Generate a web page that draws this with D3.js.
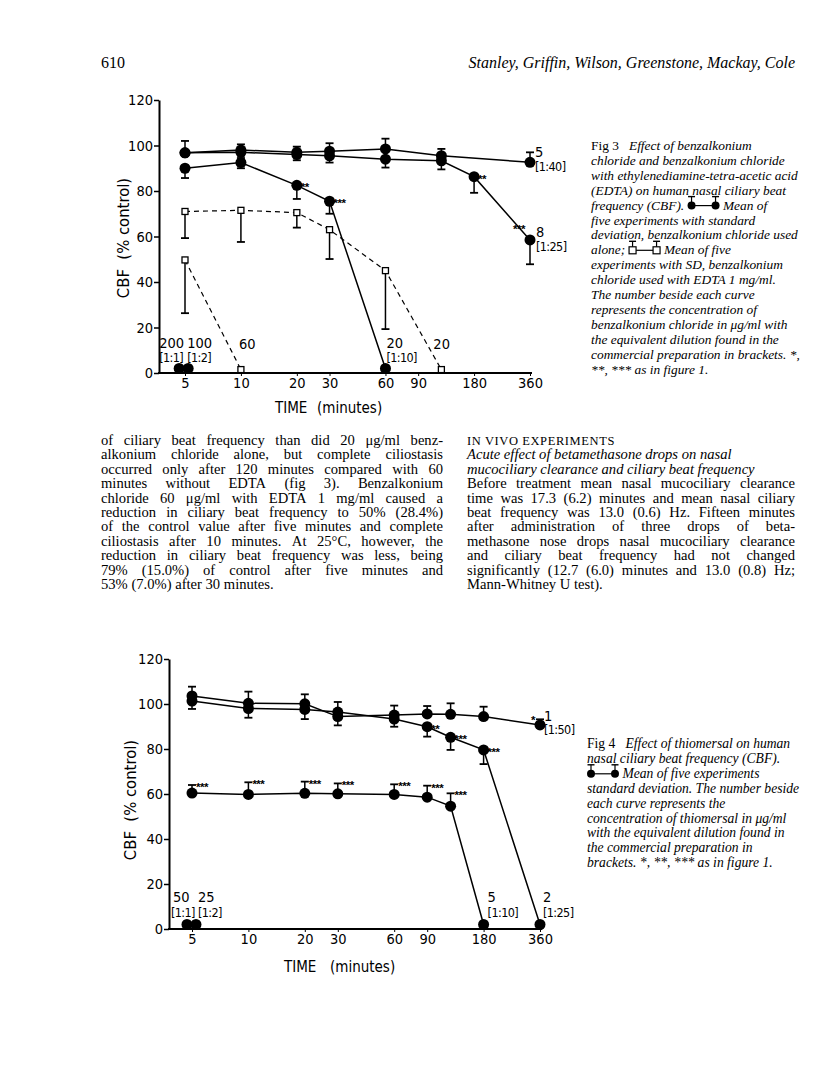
<!DOCTYPE html>
<html>
<head>
<meta charset="utf-8">
<script src="https://cdn.jsdelivr.net/npm/d3@7"></script>
<style>
  body { margin: 0; background: #fff; }
  svg { display: block; }
  text { white-space: pre; fill: #000; }
  .serif { font-family: "Liberation Serif", "Times New Roman", serif; }
  .narrow { font-family: "Liberation Sans Narrow", "DejaVu Sans Condensed", sans-serif; }
</style>
</head>
<body>
<svg id="page" width="816" height="1084"></svg>
<script>
// ---- data ----
// each row: [time (min), mean CBF (% control), end of SD bar or null]
// Fig 3, benzalkonium chloride alone (filled) and with EDTA (open)
var bkc5 = [[5, 96.8, 102], [10, 98, 100.5], [20, 97, 99.5], [30, 97.5, 101], [60, 98.5, 103], [120, 95.5, 98.5], [360, 92.6, 97]];
var bkc8 = [[5, 96.8, null], [10, 97, 94.5], [20, 96, 93.5], [30, 95.5, 92.5], [60, 94, 90.3], [120, 93.3, 89.5], [180, 86.3, 79.2], [360, 58.5, 47.8]];
var bkc20 = [[5, 90, 85.7], [10, 92.5, 90], [20, 82.5, 76.5], [30, 75.5, 70], [60, 2, null]];
var bkc100 = [[5.2, 2, null]];
var bkc200 = [[4.65, 2, null]];
var edta20 = [[5, 71, 59.3], [10, 71.5, 57.6], [20, 70.5, 63.9], [30, 63, 50.1], [60, 45, 19.3], [120, 1.5, null]];
var edta60 = [[5, 49.7, 26.3], [10, 1.5, null]];

// Fig 4, thiomersal
var thio1 = [[5, 103.6, 107.7], [10, 100.3, 105.5], [20, 100.1, 104.3], [30, 94.4, 90.5], [60, 95.1, 99.3], [90, 95.6, 99.1], [120, 95.4, 100.3], [180, 94.4, 98.8], [360, 90.7, 93.2]];
var thio2 = [[5, 101.3, 97.8], [10, 98, 93.9], [20, 97.6, 93.3], [30, 96.4, 100.9], [60, 93.3, 89.9], [90, 89.9, 85.5], [120, 85.2, 79.6], [180, 79.6, 73.3], [360, 2, null]];
var thio5 = [[5, 60.4, 64], [10, 59.8, 65.2], [20, 60.3, 65.5], [30, 60.1, 64.7], [60, 59.8, 64.3], [90, 58.6, 63.7], [120, 54.6, 60.3], [180, 2, null]];
var thio25 = [[5.25, 2, null]];
var thio50 = [[4.7, 2, null]];

var timeTicks = [5, 10, 20, 30, 60, 90, 180, 360];
var cbfTicks = [0, 20, 40, 60, 80, 100, 120];

// significance marks: [series, time, stars]
var fig3Stars = [["bkc20", 20, "**"], ["bkc20", 30, "***"], ["bkc8", 180, "**"], ["bkc8", 360, "***"]];
var fig4Stars = [["thio5", 5, "***"], ["thio5", 10, "***"], ["thio5", 20, "***"], ["thio5", 30, "***"], ["thio5", 60, "***"],
  ["thio5", 90, "***"], ["thio5", 120, "***"], ["thio2", 90, "**"], ["thio2", 120, "***"], ["thio2", 180, "***"], ["thio1", 360, "*"]];

// text of the page
var leftText = [
  "of ciliary beat frequency than did 20 \u03bcg/ml benz-",
  "alkonium chloride alone, but complete ciliostasis",
  "occurred only after 120 minutes compared with 60",
  "minutes without EDTA (fig 3). Benzalkonium",
  "chloride 60 \u03bcg/ml with EDTA 1 mg/ml caused a",
  "reduction in ciliary beat frequency to 50% (28.4%)",
  "of the control value after five minutes and complete",
  "ciliostasis after 10 minutes. At 25\u00b0C, however, the",
  "reduction in ciliary beat frequency was less, being",
  "79% (15.0%) of control after five minutes and",
  "53% (7.0%) after 30 minutes."
];
var rightHead = ["Acute effect of betamethasone drops on nasal", "mucociliary clearance and ciliary beat frequency"];
var rightText = [
  "Before treatment mean nasal mucociliary clearance",
  "time was 17.3 (6.2) minutes and mean nasal ciliary",
  "beat frequency was 13.0 (0.6) Hz. Fifteen minutes",
  "after administration of three drops of beta-",
  "methasone nose drops nasal mucociliary clearance",
  "and ciliary beat frequency had not changed",
  "significantly (12.7 (6.0) minutes and 13.0 (0.8) Hz;",
  "Mann-Whitney U test)."
];
var fig3Caption = [
  ["^Fig 3", "   Effect of benzalkonium"],
  ["chloride and benzalkonium chloride"],
  ["with ethylenediamine-tetra-acetic acid"],
  ["(EDTA) on human nasal ciliary beat"],
  ["frequency (CBF). ", "#dot", " Mean of"],
  ["five experiments with standard"],
  ["deviation, benzalkonium chloride used"],
  ["alone; ", "#sq", " Mean of five"],
  ["experiments with SD, benzalkonium"],
  ["chloride used with EDTA 1 mg/ml."],
  ["The number beside each curve"],
  ["represents the concentration of"],
  ["benzalkonium chloride in \u03bcg/ml with"],
  ["the equivalent dilution found in the"],
  ["commercial preparation in brackets. *,"],
  ["**, *** as in figure 1."]
];
var fig4Caption = [
  ["^Fig 4", "   Effect of thiomersal on human"],
  ["nasal ciliary beat frequency (CBF)."],
  ["#dot", " Mean of five experiments"],
  ["standard deviation. The number beside"],
  ["each curve represents the"],
  ["concentration of thiomersal in \u03bcg/ml"],
  ["with the equivalent dilution found in"],
  ["the commercial preparation in"],
  ["brackets. *, **, *** as in figure 1."]
];

var svg = d3.select("#page");
svg.append("rect").attr("width", 816).attr("height", 1084).attr("fill", "#fff");

// header
svg.append("text").attr("class", "serif").attr("x", 101).attr("y", 68).attr("font-size", 16).text("610");
svg.append("text").attr("class", "serif").attr("x", 795).attr("y", 68).attr("font-size", 16)
  .attr("font-style", "italic").attr("text-anchor", "end")
  .text("Stanley, Griffin, Wilson, Greenstone, Mackay, Cole");

// justified line: spread words over the column width
function justLine(g, str, x0, w, y, size, style) {
  var words = str.split(" ");
  var t = g.append("text").attr("class", "serif").attr("y", y).attr("font-size", size)
    .attr("font-style", style || "normal");
  var spans = words.map(function (wd) { return t.append("tspan").text(wd); });
  var widths = spans.map(function (s) { return s.node().getComputedTextLength(); });
  var gap = (w - d3.sum(widths)) / (words.length - 1);
  var cx = x0;
  spans.forEach(function (s, i) {
    s.attr("x", cx);
    cx += widths[i] + gap;
  });
}
function plainLine(g, str, x0, y, size, style) {
  g.append("text").attr("class", "serif").attr("x", x0).attr("y", y).attr("font-size", size)
    .attr("font-style", style || "normal").text(str);
}

var body = svg.append("g");
var lh = 14.4, top0 = 445, fs = 14.6;
leftText.forEach(function (s, i) {
  if (i < leftText.length - 1) justLine(body, s, 101, 342, top0 + i * lh, fs);
  else plainLine(body, s, 101, top0 + i * lh, fs);
});
body.append("text").attr("class", "serif").attr("x", 467).attr("y", top0).attr("font-size", 12.5)
  .attr("letter-spacing", 0.6).text("IN VIVO EXPERIMENTS");
rightHead.forEach(function (s, i) { plainLine(body, s, 467, top0 + (i + 1) * lh, fs, "italic"); });
rightText.forEach(function (s, i) {
  if (i < rightText.length - 1) justLine(body, s, 467, 328, top0 + (i + 3) * lh, fs);
  else plainLine(body, s, 467, top0 + (i + 3) * lh, fs);
});

// little legend glyph used inside the captions
function glyph(g, x, base, kind) {
  var cy = base - 4, w = 32, ends = [x + 4, x + w - 4];
  g.append("line").attr("x1", ends[0]).attr("x2", ends[1]).attr("y1", cy).attr("y2", cy)
    .attr("stroke", "#000").attr("stroke-width", 1.2);
  ends.forEach(function (cx) {
    g.append("line").attr("x1", cx).attr("x2", cx).attr("y1", cy).attr("y2", cy - 9)
      .attr("stroke", "#000").attr("stroke-width", 1.2);
    g.append("line").attr("x1", cx - 3.5).attr("x2", cx + 3.5).attr("y1", cy - 9).attr("y2", cy - 9)
      .attr("stroke", "#000").attr("stroke-width", 1.4);
    if (kind === "#dot") {
      g.append("circle").attr("cx", cx).attr("cy", cy).attr("r", 4).attr("fill", "#000");
    } else {
      g.append("rect").attr("x", cx - 3.5).attr("y", cy - 3.5).attr("width", 7).attr("height", 7)
        .attr("fill", "#fff").attr("stroke", "#000").attr("stroke-width", 1.2);
    }
  });
  return w;
}
function caption(lines, x0, y0, step, size) {
  var g = svg.append("g");
  lines.forEach(function (segs, i) {
    var y = y0 + i * step, cx = x0;
    segs.forEach(function (s) {
      if (s[0] === "#") { cx += glyph(g, cx, y, s); return; }
      var reg = s[0] === "^";
      var t = g.append("text").attr("class", "serif").attr("x", cx).attr("y", y).attr("font-size", size)
        .attr("font-style", reg ? "normal" : "italic").text(reg ? s.slice(1) : s);
      cx += t.node().getComputedTextLength();
    });
  });
}
caption(fig3Caption, 591, 150, 14.9, 13.4);
caption(fig4Caption, 587, 748, 14.9, 13.6);

// ---- charts ----
function chart(o) {
  var x = d3.scaleLog().domain([5, 360]).range(o.xr);
  var y = d3.scaleLinear().domain([0, 120]).range(o.yr);
  var g = svg.append("g").attr("class", "narrow");

  g.append("g").attr("transform", "translate(" + o.axisX + ",0)")
    .call(d3.axisLeft(y).tickValues(cbfTicks).tickSize(5).tickSizeOuter(0).tickPadding(1))
    .call(function (a) {
      a.attr("font-family", null).attr("font-size", 14.5);
      a.select(".domain").attr("stroke-width", 2);
      a.selectAll(".tick line").attr("stroke-width", 1.5);
    });
  g.append("line").attr("x1", o.axisX - 1).attr("x2", x(360) + 2).attr("y1", y(0)).attr("y2", y(0))
    .attr("stroke", "#000").attr("stroke-width", 2);
  g.append("g").attr("transform", "translate(0," + y(0) + ")")
    .call(d3.axisBottom(x).tickValues(timeTicks).tickFormat(d3.format("d")).tickSize(3).tickPadding(2))
    .call(function (a) {
      a.attr("font-family", null).attr("font-size", 14.5);
      a.select(".domain").remove();
    });

  g.append("text").attr("transform", "translate(" + o.ylab[0] + "," + o.ylab[1] + ") rotate(-90)")
    .attr("text-anchor", "middle").attr("font-size", 16.5).text("CBF  (% control)");
  g.append("text").attr("x", o.xlab[0]).attr("y", o.xlab[2]).attr("font-size", 15).text("TIME");
  g.append("text").attr("x", o.xlab[1]).attr("y", o.xlab[2]).attr("font-size", 15).text("(minutes)");

  var line = d3.line().x(function (d) { return x(d[0]); }).y(function (d) { return y(d[1]); });
  o.series.forEach(function (s) {
    g.append("path").datum(s.data).attr("d", line).attr("fill", "none").attr("stroke", "#000")
      .attr("stroke-width", s.open ? 1.2 : 1.5).attr("stroke-dasharray", s.open ? "5,4" : null);
  });
  o.series.forEach(function (s) {
    s.data.filter(function (d) { return d[2] != null; }).forEach(function (d) {
      g.append("line").attr("x1", x(d[0])).attr("x2", x(d[0])).attr("y1", y(d[1])).attr("y2", y(d[2]))
        .attr("stroke", "#000").attr("stroke-width", 1.5);
      g.append("line").attr("x1", x(d[0]) - 4).attr("x2", x(d[0]) + 4).attr("y1", y(d[2])).attr("y2", y(d[2]))
        .attr("stroke", "#000").attr("stroke-width", 1.8);
    });
  });
  o.series.forEach(function (s) {
    s.data.forEach(function (d) {
      if (s.open) {
        g.append("rect").attr("x", x(d[0]) - 3).attr("y", y(d[1]) - 3).attr("width", 6).attr("height", 6)
          .attr("fill", "#fff").attr("stroke", "#000").attr("stroke-width", 1.3);
      } else {
        g.append("circle").attr("cx", x(d[0])).attr("cy", y(d[1])).attr("r", 5.5).attr("fill", "#000");
      }
    });
  });

  // stars
  var byName = {};
  o.series.forEach(function (s) { byName[s.name] = s.data; });
  o.stars.forEach(function (st) {
    var d = byName[st[0]].find(function (r) { return r[0] === st[1]; });
    var px = x(d[0]), up = d[2] != null && d[2] > d[1];
    var ay = up ? y(d[2]) : y(d[1]);
    var t = g.append("text").attr("font-family", "Liberation Sans, sans-serif").attr("font-weight", "bold")
      .attr("font-size", 11.5).attr("letter-spacing", -0.5).text(st[2]);
    if (st[1] === 360) {
      t.attr("text-anchor", "end").attr("x", px - 5).attr("y", up ? ay + 5 : ay - 7);
    } else {
      t.attr("x", px + 4).attr("y", ay + 6);
    }
  });

  // curve labels: concentration and dilution
  o.labels.forEach(function (l) {
    var d = byName[l.s][l.i];
    var px = x(d[0]) + l.dx, py = y(d[1]);
    l.txt.forEach(function (tx, k) {
      g.append("text").attr("x", px + (k ? (l.dx2 || 0) : 0)).attr("y", py + l.dy[k])
        .attr("font-size", k ? 12.5 : 14.5).attr("letter-spacing", k ? -0.6 : 0).text(tx);
    });
  });
}

chart({
  xr: [185, 530], yr: [373, 100], axisX: 159,
  ylab: [129, 238], xlab: [275, 317, 413],
  series: [
    { name: "bkc5", data: bkc5 }, { name: "bkc8", data: bkc8 }, { name: "bkc20", data: bkc20 },
    { name: "bkc100", data: bkc100 }, { name: "bkc200", data: bkc200 },
    { name: "edta20", data: edta20, open: true }, { name: "edta60", data: edta60, open: true }
  ],
  stars: fig3Stars,
  labels: [
    { s: "bkc5", i: 6, dx: 5, dy: [-5, 9], txt: ["5", "[1:40]"] },
    { s: "bkc8", i: 7, dx: 6, dy: [-3, 11], txt: ["8", "[1:25]"] },
    { s: "bkc20", i: 4, dx: 1, dy: [-20, -6], txt: ["20", "[1:10]"] },
    { s: "edta20", i: 5, dx: -8, dy: [-21], txt: ["20"] },
    { s: "edta60", i: 1, dx: -2, dy: [-21], txt: ["60"] },
    { s: "bkc200", i: 0, dx: -20, dy: [-20, -6], txt: ["200", "[1:1]"] },
    { s: "bkc100", i: 0, dx: -1, dy: [-20, -6], txt: ["100", "[1:2]"] }
  ]
});

chart({
  xr: [192, 540], yr: [929, 659], axisX: 169,
  ylab: [136, 800], xlab: [284, 330, 972],
  series: [
    { name: "thio1", data: thio1 }, { name: "thio2", data: thio2 }, { name: "thio5", data: thio5 },
    { name: "thio25", data: thio25 }, { name: "thio50", data: thio50 }
  ],
  stars: fig4Stars,
  labels: [
    { s: "thio1", i: 8, dx: 4, dy: [-4, 9], txt: ["1", "[1:50]"] },
    { s: "thio5", i: 7, dx: 4, dy: [-23, -8], txt: ["5", "[1:10]"] },
    { s: "thio2", i: 8, dx: 3, dy: [-23, -8], txt: ["2", "[1:25]"] },
    { s: "thio50", i: 0, dx: -14, dy: [-23, -8], dx2: -2, txt: ["50", "[1:1]"] },
    { s: "thio25", i: 0, dx: 2, dy: [-23, -8], dx2: 0, txt: ["25", "[1:2]"] }
  ]
});
</script>
</body>
</html>
